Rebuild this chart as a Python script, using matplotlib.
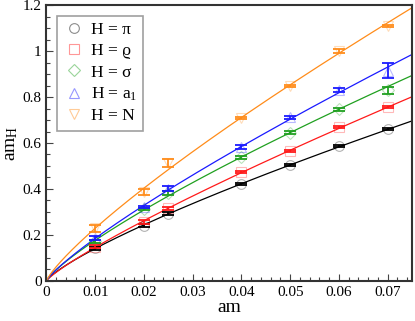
import numpy as np
import matplotlib
matplotlib.use('Agg')
from matplotlib import pyplot as plt
from matplotlib.ticker import MultipleLocator

plt.rcParams['font.family'] = ['Liberation Serif', 'DejaVu Serif']
plt.rcParams['mathtext.fontset'] = 'custom'
plt.rcParams['mathtext.rm'] = 'Liberation Serif'
plt.rcParams['mathtext.it'] = 'Liberation Serif:italic'

am = [0.01, 0.02, 0.025, 0.04, 0.05, 0.06, 0.07]

pi_val = [0.142, 0.240, 0.293, 0.420, 0.504, 0.588, 0.660]
pi_err = [0.006, 0.006, 0.005, 0.004, 0.004, 0.004, 0.005]
rho_val = [0.148, 0.256, 0.316, 0.473, 0.567, 0.668, 0.758]
rho_err = [0.006, 0.007, 0.006, 0.004, 0.004, 0.004, 0.004]
sig_val = [0.172, 0.313, 0.383, 0.538, 0.645, 0.746, 0.830]
sig_err = [0.008, 0.006, 0.008, 0.007, 0.006, 0.008, 0.015]
a1_val = [0.186, 0.322, 0.401, 0.582, 0.712, 0.830, 0.915]
a1_err = [0.010, 0.006, 0.010, 0.008, 0.007, 0.008, 0.034]
n_val = [0.229, 0.386, 0.513, 0.710, 0.848, 1.000, 1.109]
n_err = [0.015, 0.012, 0.016, 0.005, 0.006, 0.008, 0.006]

labels = ['H = π', 'H = ϱ', 'H = σ', r'H = a$_1$', 'H = N']
values = [pi_val, rho_val, sig_val, a1_val, n_val]
errors = [pi_err, rho_err, sig_err, a1_err, n_err]
colors = ['black', '#ff1a1a', '#20a020', '#1a1aff', '#ff8c1a']
markers = ['o', 's', 'D', '^', 'v']
msizes = [7, 7, 6, 7, 7]

fig = plt.figure(figsize=(4.15, 3.21), dpi=100)
ax = fig.add_axes([0.112, 0.125, 0.881, 0.859])

xs = np.array(am)
xf = np.linspace(1e-5, 0.075, 300)
for val, err, col, mk, ms, lab in zip(values, errors, colors, markers, msizes, labels):
    y = np.array(val)
    # power law fit am_H = c*am^p
    p, lc = np.polyfit(np.log(xs), np.log(y), 1)
    ax.plot(np.r_[0, xf], np.r_[0, np.exp(lc)*xf**p], color=col, lw=0.9, zorder=2)
    ax.plot(xs, y, linestyle='none', marker=mk, ms=ms, mfc='none', mec=col,
            mew=0.8, alpha=0.3, label=lab, zorder=3)
    ax.errorbar(xs, y, yerr=err, fmt='none', ecolor=col, elinewidth=1.3,
                capsize=4.5, capthick=1.3, zorder=4)

ax.set_xlim(0, 0.075)
ax.set_ylim(0, 1.2)
ax.xaxis.set_major_locator(MultipleLocator(0.01))
ax.xaxis.set_minor_locator(MultipleLocator(0.002))
ax.yaxis.set_major_locator(MultipleLocator(0.2))
ax.yaxis.set_minor_locator(MultipleLocator(0.05))
ax.xaxis.set_major_formatter(matplotlib.ticker.FuncFormatter(lambda v, p: '0' if abs(v) < 1e-9 else ('%.2f' % v)))
ax.yaxis.set_major_formatter(matplotlib.ticker.FuncFormatter(lambda v, p: '%g' % round(v, 2)))
ax.tick_params(which='both', direction='in', labelsize=11, color='#444444')
ax.tick_params(which='major', length=5, width=0.8)
ax.tick_params(which='minor', length=3, width=0.8)
for s in ax.spines.values():
    s.set_linewidth(1.5)
    s.set_color('#333333')

ax.set_xlabel('am', fontsize=14, labelpad=0)
ax.set_ylabel(r'am$_\mathrm{H}$', fontsize=14, labelpad=2)

leg = ax.legend(loc='upper left', fontsize=12.5, frameon=True, fancybox=False,
                edgecolor='#888888', handletextpad=0.3, borderpad=0.35,
                labelspacing=0.3, handlelength=1.3, borderaxespad=0.6)
leg.get_frame().set_linewidth(1.2)
for h in leg.legend_handles:
    h.set_alpha(0.45)

fig.savefig('out.png', dpi=100)
